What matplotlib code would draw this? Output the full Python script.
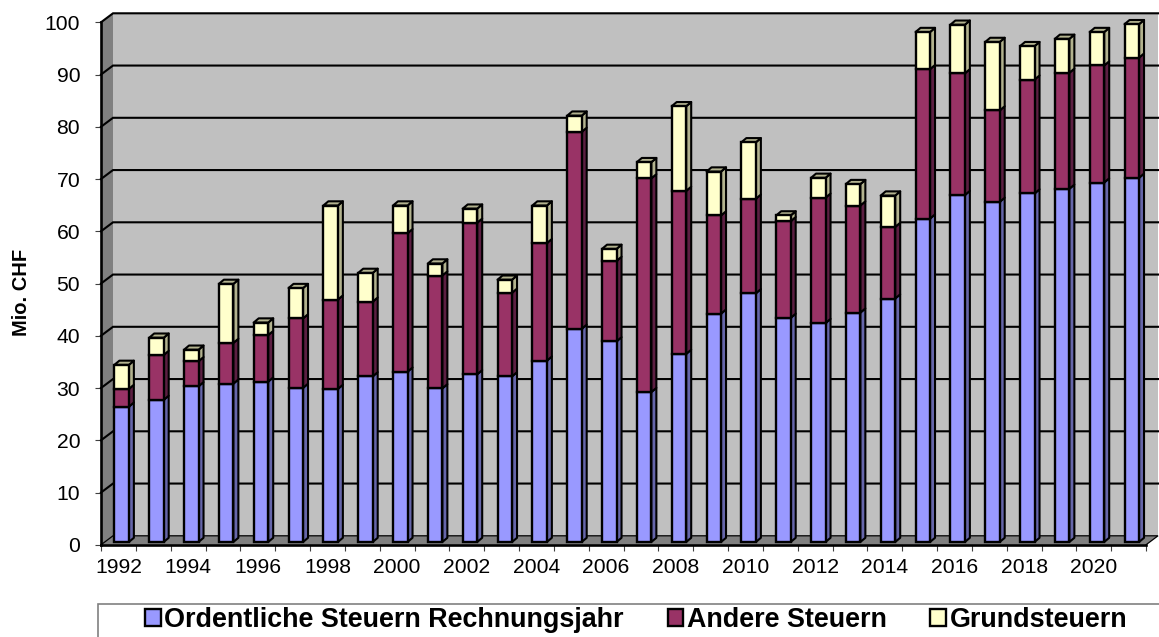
import numpy as np
import matplotlib
matplotlib.use("Agg")
import matplotlib.pyplot as plt
from matplotlib.patches import Polygon, Rectangle

plt.rcParams['font.family'] = ['Liberation Sans', 'DejaVu Sans']

years = list(range(1992, 2022))
ordentliche = [25.9, 27.2, 29.8, 30.3, 30.7, 29.5, 29.3, 31.7, 32.6, 29.4,
               32.1, 31.7, 34.7, 40.8, 38.4, 28.7, 36.0, 43.7, 47.6, 42.9,
               41.9, 43.9, 46.6, 61.9, 66.4, 65.1, 66.7, 67.6, 68.8, 69.7]
andere = [3.4, 8.6, 4.8, 7.8, 8.9, 13.3, 17.1, 14.3, 26.5, 21.6,
          29.0, 16.0, 22.5, 37.7, 15.4, 40.9, 31.2, 18.8, 18.1, 18.5,
          24.0, 20.5, 13.7, 28.6, 23.3, 17.5, 21.8, 22.2, 22.4, 23.0]
grund = [4.6, 3.3, 2.2, 11.3, 2.4, 5.8, 18.0, 5.5, 5.3, 2.3,
         2.7, 2.5, 7.2, 3.1, 2.3, 3.1, 16.2, 8.4, 10.8, 1.1,
         3.8, 4.1, 6.0, 7.1, 9.3, 13.1, 6.4, 6.5, 6.4, 6.4]
series_names = ['Ordentliche Steuern Rechnungsjahr', 'Andere Steuern', 'Grundsteuern']
series = [ordentliche, andere, grund]
front_cols = ['#9999FF', '#993366', '#FFFFCC']
side_cols = ['#6666AA', '#5C1F42', '#B3B38F']
y_ticks = list(range(0, 101, 10))

W, H = 1159, 637
fig = plt.figure(figsize=(W / 100, H / 100), dpi=100, facecolor='white')
L, R, T, B = 101.0, 1146.0, 22.3, 544.8
ax = fig.add_axes([L / W, 1 - B / H, (R - L) / W, (B - T) / H])
n = len(years)
ax.set_xlim(0, n)
ax.set_ylim(0, 100)
ax.patch.set_visible(False)
PX = n / (R - L)
PY = 100 / (B - T)

# 3D-style walls
wx, wy = 12 * PX, 9 * PY
ax.add_patch(Polygon([(wx, wy), (n + wx, wy), (n + wx, 100 + wy), (wx, 100 + wy)],
                     closed=True, fc='#C0C0C0', ec='none', clip_on=False, zorder=1))
ax.add_patch(Polygon([(0, 0), (wx, wy), (wx, 100 + wy), (0, 100)],
                     closed=True, fc='#808080', ec='none', clip_on=False, zorder=1))
ax.add_patch(Polygon([(0, 0), (n, 0), (n + wx, wy), (wx, wy)],
                     closed=True, fc='#808080', ec='none', clip_on=False, zorder=1))
for v in y_ticks:
    pts = [(0, v), (wx, v + wy), (n + wx, v + wy)]
    if v == 0:
        pts = [(0, v), (wx, v + wy), (n + wx, v + wy), (n, v)]
    lw = 0.9 if v == 0 else 1.5
    ax.plot(*zip(*pts), color='black', lw=lw, clip_on=False, zorder=2,
            solid_joinstyle='miter')

# Bars
bw = 14.5 * PX
xs = np.arange(n) + 0.5 + 3.2 * PX
base = 2.8 * PY
dx, dy = 5 * PX, 4.2 * PY
bottom = np.full(n, base)
handles = []
for vals, fc, sc, name in zip(series, front_cols, side_cols, series_names):
    vals = np.array(vals)
    h = ax.bar(xs, vals, bottom=bottom, width=bw, color=fc, edgecolor='black',
               linewidth=1.7, label=name, clip_on=False, zorder=5)
    handles.append(h)
    for x, b, v in zip(xs, bottom, vals):
        xr = x + bw / 2
        ax.add_patch(Polygon([(xr, b), (xr + dx, b + dy), (xr + dx, b + v + dy), (xr, b + v)],
                             closed=True, fc=sc, ec='black', lw=1.5, clip_on=False,
                             zorder=4, joinstyle='round'))
    bottom = bottom + vals
for x, b in zip(xs, bottom):
    xl, xr = x - bw / 2, x + bw / 2
    ax.add_patch(Polygon([(xl, b), (xr, b), (xr + dx, b + dy), (xl + dx, b + dy)],
                         closed=True, fc=side_cols[2], ec='black', lw=1.5, clip_on=False,
                         zorder=4, joinstyle='round'))

# Axes
for s in ('top', 'right'):
    ax.spines[s].set_visible(False)
for s in ('left', 'bottom'):
    ax.spines[s].set_linewidth(1.9)
    ax.spines[s].set_color('black')
    ax.spines[s].set_zorder(6)
ax.set_yticks(y_ticks)
ax.set_yticklabels([str(v) for v in y_ticks], fontsize=15.2)
ax.tick_params(axis='y', length=4, width=0.8, color='#404040', pad=11)
ax.set_xticks(np.arange(0, n + 1))
ax.set_xticklabels([''] * (n + 1))
ax.tick_params(axis='x', which='major', length=4, width=0.8, color='#404040')
ax.set_xticks(np.arange(0, n, 2) + 0.5, minor=True)
ax.set_xticklabels([str(y) for y in years[::2]], minor=True, fontsize=15.2)
ax.tick_params(axis='x', which='minor', length=0, pad=9.5)
ax.yaxis.set_minor_locator(matplotlib.ticker.NullLocator())
fig.text(22 / W, 1 - 292 / H, 'Mio. CHF', rotation=90, fontsize=14.5, fontweight='bold',
         ha='center', va='center')

# Legend
fig.add_artist(Rectangle((97.5 / W, -0.1), 1.0, 0.1 + (H - 603.5) / H,
                         transform=fig.transFigure, fc='none', ec='#808080', lw=1.2))
leg = fig.legend(handles=handles, labels=series_names, loc='center left', ncol=3,
                 bbox_to_anchor=(145 / W, 1 - 620 / H), frameon=False,
                 prop={'weight': 'bold', 'size': 19.4}, handlelength=0.58, handleheight=0.58,
                 handletextpad=0.14, columnspacing=1.62, borderpad=0, borderaxespad=0)

fig.savefig('out.png', dpi=100)
